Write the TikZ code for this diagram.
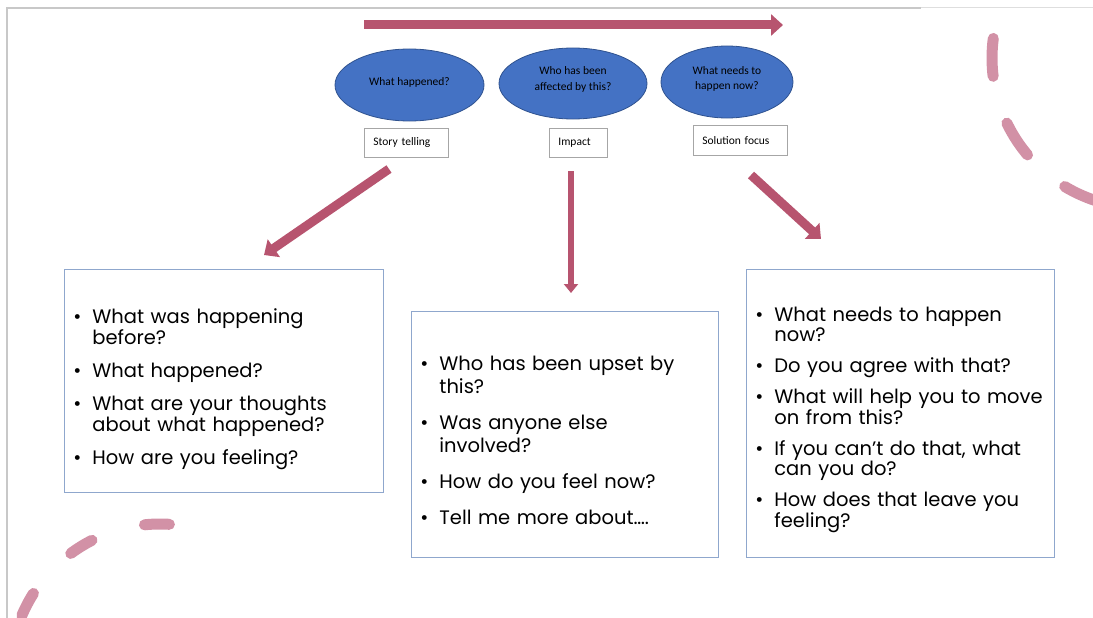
\documentclass[tikz,border=0pt]{standalone}
\usepackage{fontspec}
\setmainfont{Poppins}
\newfontfamily\labelfont{Carlito}
\usetikzlibrary{arrows.meta, shapes.geometric}
\definecolor{arrowpink}{RGB}{183,84,111}
\definecolor{dashpink}{RGB}{210,145,166}
\definecolor{ovalblue}{RGB}{68,114,196}
\definecolor{ovalline}{RGB}{47,82,143}
\definecolor{panelline}{RGB}{143,167,205}
\definecolor{framegray}{RGB}{200,200,200}
\tikzset{
    x=1pt, y=-1pt,
    oval/.style={ellipse, draw=ovalline, fill=ovalblue, line width=0.8pt, inner sep=0pt,
        align=center, font=\labelfont\fontsize{11.5}{15.5}\selectfont},
    tag/.style={draw=gray!70, fill=white, line width=0.8pt, anchor=north west,
        inner xsep=9pt, inner ysep=0pt, align=left, font=\labelfont\fontsize{11.5}{14}\selectfont},
    panel/.style={draw=panelline, fill=white, line width=0.8pt, anchor=north west,
        inner xsep=9pt, inner ysep=0pt, align=left},
    flow/.style={draw=arrowpink, line width=9pt, -{Triangle[width=21pt, length=12pt]}},
    ring/.style={draw=dashpink, line width=11pt, line cap=round},
}
\newcommand{\qone}[1]{\par\noindent\makebox[19pt][l]{\textbullet}\mbox{#1}\par}
\newcommand{\qtwo}[2]{\par\noindent\makebox[19pt][l]{\textbullet}\mbox{#1}\newline\hspace*{19pt}\mbox{#2}\par}

\begin{document}
\begin{tikzpicture}
\useasboundingbox (0,0) rectangle (1093,618);

\draw[framegray, line width=1.2pt] (7,618) -- (7,8) -- (921,8);
\draw[framegray!60, line width=1pt] (921,7.5) -- (1093,7.5);

\draw[ring, dash pattern=on 38pt off 49pt] (1142,58) ++(187.5:150) arc[start angle=187.5, end angle=95, radius=150];
\draw[ring, dash pattern=on 25pt off 55pt] (160,674) ++(273.6:150) arc[start angle=273.6, end angle=190, radius=150];

\node[oval, minimum width=149pt, minimum height=72pt] (happened) at (409.5,85) {What happened?\\[-8pt]};
\node[oval, minimum width=148pt, minimum height=71pt] (affected) at (573,83.5) {Who has been\\affected by this?\\[-6pt]};
\node[oval, minimum width=132pt, minimum height=72pt] (needs) at (727,82) {What needs to\\happen now?\\[-8pt]};

\node[tag, text width=66pt, minimum height=29pt] (story) at (364,128) {Story telling};
\node[tag, text width=40pt, minimum height=29pt] (impact) at (549,128) {Impact};
\node[tag, text width=76pt, minimum height=30pt] (solution) at (693,125) {Solution focus};

\coordinate (topS) at (364,25);
\coordinate (topE) at (783,25);
\coordinate (storyS) at (389,169);
\coordinate (storyE) at (264,255);
\coordinate (impactS) at (571,171);
\coordinate (impactE) at (571,293);
\coordinate (solutionS) at (751,175);
\coordinate (solutionE) at (821,239);

\draw[flow] (topS) -- (topE);
\draw[flow] (storyS) -- (storyE);
\draw[flow, line width=6.5pt, -{Triangle[width=14pt, length=9pt]}] (impactS) -- (impactE);
\draw[flow] (solutionS) -- (solutionE);

\node[panel, text width=301pt, minimum height=223pt, font=\fontsize{19.5}{21}\selectfont] (before) at (64,269) {%
\setlength{\parskip}{12pt}%
\vspace*{-2pt}
\qtwo{What was happening}{before?}
\qone{What happened?}
\qtwo{What are your thoughts}{about what happened?}
\qone{How are you feeling?}};

\node[panel, text width=289pt, minimum height=246pt, font=\fontsize{19.5}{23}\selectfont] (upset) at (411,311) {%
\setlength{\parskip}{13pt}%
\vspace*{-9pt}
\qtwo{Who has been upset by}{this?}
\qtwo{Was anyone else}{involved?}
\qone{How do you feel now?}
\qone{Tell me more about\dots.}};

\node[panel, text width=290pt, minimum height=288pt, font=\fontsize{19.5}{20.5}\selectfont] (move) at (746,269) {%
\setlength{\parskip}{10.5pt}%
\vspace*{-4pt}
\qtwo{What needs to happen}{now?}
\qone{Do you agree with that?}
\qtwo{What will help you to move}{on from this?}
\qtwo{If you can't do that, what}{can you do?}
\qtwo{How does that leave you}{feeling?}};

\end{tikzpicture}
\end{document}
